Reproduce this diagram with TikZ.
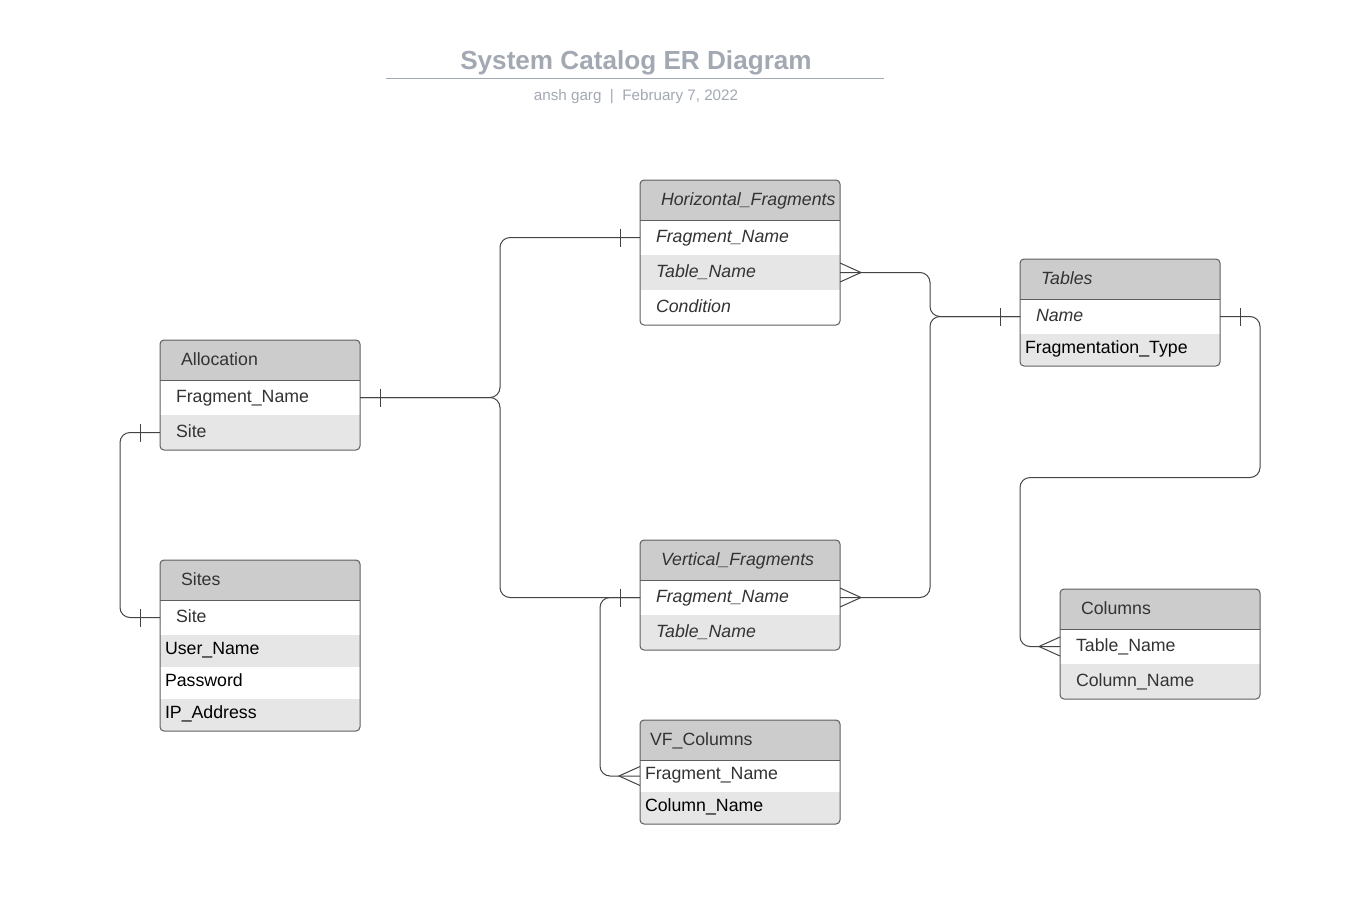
\documentclass[tikz,border=0pt]{standalone}
\usepackage{fontspec}
\setmainfont{Liberation Sans}
\usetikzlibrary{calc}
\definecolor{hdrfill}{HTML}{CCCCCC}
\definecolor{rowgray}{HTML}{E6E6E6}
\definecolor{bordc}{HTML}{5E5E5E}
\definecolor{txt}{HTML}{333333}
\definecolor{ttl}{HTML}{A3A9B3}
\definecolor{linec}{HTML}{444444}
\newcommand\erfont{\fontsize{13.3}{16}\selectfont}
\tikzset{
  cell/.style={anchor=north west, inner ysep=0pt, outer sep=0pt, align=left,
    font=\erfont, text=txt, text height=10.2pt, text depth=2.2pt},
  hd/.style={cell, minimum height=30pt, fill=hdrfill},
  rw/.style={cell, minimum height=#1},
  rws/.style={cell, minimum height=24pt, text height=9.0pt, text depth=3.4pt},
  off21/.style={inner xsep=15.75pt, text width=118.5pt},
  off16/.style={inner xsep=12pt, text width=126pt},
  off10/.style={inner xsep=7.5pt, text width=135pt},
  off5/.style={inner xsep=3.75pt, text width=142.5pt},
  wh/.style={fill=white},
  gr/.style={fill=rowgray},
  blk/.style={text=black},
  border/.style={draw=bordc, line width=0.75pt, rounded corners=3pt},
  divider/.style={draw=bordc, line width=0.75pt},
  conn/.style={draw=linec, line width=0.75pt, rounded corners=7.5pt},
  tick/.style={draw=linec, line width=0.75pt}
}
\begin{document}
\begin{tikzpicture}[x=0.75pt, y=-0.75pt]
\fill[white] (0,0) rectangle (1368,918);
\useasboundingbox (0,0) rectangle (1368,918);

% title
\node[font=\bfseries\fontsize{19.6}{23}\selectfont, text=ttl] (title) at (636,63) {System Catalog ER Diagram};
\draw[ttl, line width=1.4pt] (386,78.5) -- (884,78.5);
\node[font=\fontsize{11.4}{14}\selectfont, text=ttl] (sub) at (636,97) {ansh garg\ \ |\ \ February 7, 2022};

% Allocation
\begin{scope}
\clip[rounded corners=3pt] (160,340) rectangle (360,450);
\node[hd, off21] (aH) at (160,340) {Allocation};
\node[rw=26.25pt, off16, wh] (aFN) at (aH.south west) {Fragment\_Name};
\node[rw=26.25pt, off16, gr] (aSite) at (aFN.south west) {Site};
\end{scope}
\draw[divider] (aH.south west) -- (aH.south east);
\draw[border] (aH.north west) rectangle (aSite.south east);

% Sites
\begin{scope}
\clip[rounded corners=3pt] (160,560) rectangle (360,731);
\node[hd, off21] (sH) at (160,560) {Sites};
\node[rw=26.25pt, off16, wh] (sSite) at (sH.south west) {Site};
\node[rws, off5, gr, blk] (sUser) at (sSite.south west) {User\_Name};
\node[rws, off5, wh, blk] (sPass) at (sUser.south west) {Password};
\node[rws, off5, gr, blk] (sIP) at (sPass.south west) {IP\_Address};
\end{scope}
\draw[divider] (sH.south west) -- (sH.south east);
\draw[border] (sH.north west) rectangle (sIP.south east);

% Horizontal_Fragments
\begin{scope}
\clip[rounded corners=3pt] (640,180) rectangle (840,325);
\node[hd, off21, font=\erfont\itshape] (hH) at (640,180) {Horizontal\_Fragments};
\node[rw=26.25pt, off16, wh, font=\erfont\itshape] (hFN) at (hH.south west) {Fragment\_Name};
\node[rw=26.25pt, off16, gr, font=\erfont\itshape] (hTN) at (hFN.south west) {Table\_Name};
\node[rw=26.25pt, off16, wh, font=\erfont\itshape] (hCond) at (hTN.south west) {Condition};
\end{scope}
\draw[divider] (hH.south west) -- (hH.south east);
\draw[border] (hH.north west) rectangle (hCond.south east);

% Tables
\begin{scope}
\clip[rounded corners=3pt] (1020,259) rectangle (1220,366);
\node[hd, off21, font=\erfont\itshape] (tH) at (1020,259) {Tables};
\node[rw=26.25pt, off16, wh, font=\erfont\itshape] (tName) at (tH.south west) {Name};
\node[rws, off5, gr, blk] (tFT) at (tName.south west) {Fragmentation\_Type};
\end{scope}
\draw[divider] (tH.south west) -- (tH.south east);
\draw[border] (tH.north west) rectangle (tFT.south east);

% Vertical_Fragments
\begin{scope}
\clip[rounded corners=3pt] (640,540) rectangle (840,650);
\node[hd, off21, font=\erfont\itshape] (vH) at (640,540) {Vertical\_Fragments};
\node[rw=26.25pt, off16, wh, font=\erfont\itshape] (vFN) at (vH.south west) {Fragment\_Name};
\node[rw=26.25pt, off16, gr, font=\erfont\itshape] (vTN) at (vFN.south west) {Table\_Name};
\end{scope}
\draw[divider] (vH.south west) -- (vH.south east);
\draw[border] (vH.north west) rectangle (vTN.south east);

% VF_Columns
\begin{scope}
\clip[rounded corners=3pt] (640,720) rectangle (840,824);
\node[hd, off10] (cH) at (640,720) {VF\_Columns};
\node[rws, off5, wh] (cFN) at (cH.south west) {Fragment\_Name};
\node[rws, off5, gr, blk] (cCN) at (cFN.south west) {Column\_Name};
\end{scope}
\draw[divider] (cH.south west) -- (cH.south east);
\draw[border] (cH.north west) rectangle (cCN.south east);

% Columns
\begin{scope}
\clip[rounded corners=3pt] (1060,589) rectangle (1260,699);
\node[hd, off21] (kH) at (1060,589) {Columns};
\node[rw=26.25pt, off16, wh] (kTN) at (kH.south west) {Table\_Name};
\node[rw=26.25pt, off16, gr] (kCN) at (kTN.south west) {Column\_Name};
\end{scope}
\draw[divider] (kH.south west) -- (kH.south east);
\draw[border] (kH.north west) rectangle (kCN.south east);

% connectors
\draw[conn] (aFN.east) -- ++(140,0) |- (hFN.west);
\draw[conn] (aFN.east) -- ++(140,0) |- (vFN.west);
\draw[conn] (hTN.east) -- ++(90,0) |- (tName.west);
\draw[conn] (vFN.east) -- ++(90,0) |- (tName.west);
\draw[conn] (tName.east) -- ++(40,0) -- ++(0,161) -- ++(-240,0) |- (kTN.west);
\draw[conn] (aSite.west) -- ++(-40,0) |- (sSite.west);
\draw[conn] (vFN.west) -- ++(-40,0) |- (cFN.west);

% one marks
\draw[tick] ($(aFN.east)+(20,-9)$) -- ++(0,18);
\draw[tick] ($(hFN.west)+(-20,-9)$) -- ++(0,18);
\draw[tick] ($(vFN.west)+(-20,-9)$) -- ++(0,18);
\draw[tick] ($(tName.west)+(-20,-9)$) -- ++(0,18);
\draw[tick] ($(tName.east)+(20,-9)$) -- ++(0,18);
\draw[tick] ($(aSite.west)+(-20,-9)$) -- ++(0,18);
\draw[tick] ($(sSite.west)+(-20,-9)$) -- ++(0,18);

% many marks
\draw[tick] ($(hTN.east)+(0,-9.5)$) -- ($(hTN.east)+(21,0)$) -- ($(hTN.east)+(0,9.5)$);
\draw[tick] ($(vFN.east)+(0,-9.5)$) -- ($(vFN.east)+(21,0)$) -- ($(vFN.east)+(0,9.5)$);
\draw[tick] ($(kTN.west)+(0,-9.5)$) -- ($(kTN.west)+(-21,0)$) -- ($(kTN.west)+(0,9.5)$);
\draw[tick] ($(cFN.west)+(0,-9.5)$) -- ($(cFN.west)+(-21,0)$) -- ($(cFN.west)+(0,9.5)$);
\end{tikzpicture}
\end{document}
